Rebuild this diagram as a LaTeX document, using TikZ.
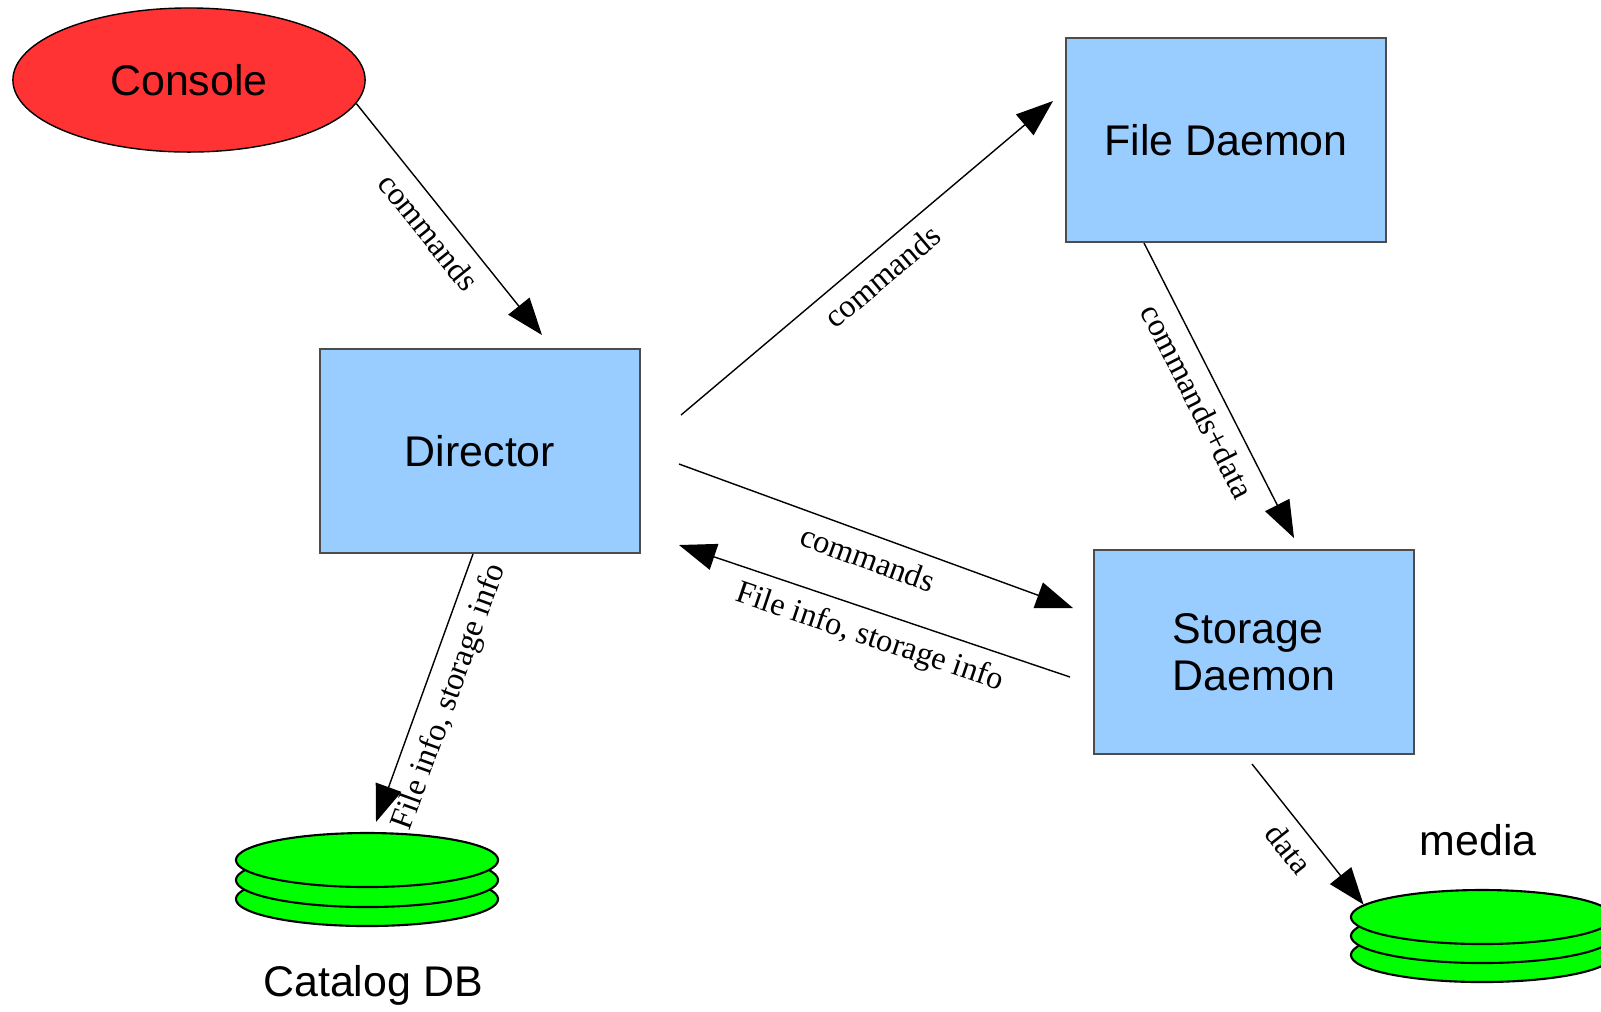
\documentclass[tikz,border=0pt]{standalone}
\usepackage{fontspec}
\setmainfont{Liberation Serif}
\newfontfamily\boxfont{Liberation Sans}
\usepackage{tikz}
\usetikzlibrary{arrows.meta,shapes.geometric}
\definecolor{boxblue}{RGB}{153,204,255}
\definecolor{consred}{RGB}{255,51,51}
\definecolor{diskgreen}{RGB}{0,255,0}

\tikzset{
  block/.style={draw=black!70, fill=boxblue, minimum width=3.2cm, minimum height=2.04cm,
    font=\boxfont\fontsize{12.2}{14}\selectfont},
  disk/.style={ellipse, draw, fill=diskgreen, minimum width=2.62cm, minimum height=0.54cm,
    inner sep=0, line width=0.6pt},
  flow/.style={-{Triangle[length=3.7mm,width=2.7mm]}, line width=0.4pt},
  lbl/.style={sloped, below, font=\fontsize{9.2}{11}\selectfont}
}

\begin{document}
\begin{tikzpicture}[x=0.01cm,y=-0.01cm]
\useasboundingbox (0,0) rectangle (1601,1011);

\node[ellipse, draw, fill=consred, minimum width=3.52cm, minimum height=1.44cm, inner sep=0,
  font=\boxfont\fontsize{12.2}{14}\selectfont] (con) at (189,80) {Console};
\node[block] (dir) at (480,451) {Director};
\node[block] (fd) at (1226,140) {File Daemon};
\node[block, align=left] (sd) at (1254,652) {Storage\\[-0.5pt]Daemon};

% disk stacks, bottom one first
\foreach \n/\y in {3/899,2/880,1/860} {
\node[disk] (cat\n) at (367,\y) {};}
\foreach \n/\y in {3/955,2/936,1/917} {
\node[disk] (med\n) at (1482,\y) {};}
\node[font=\boxfont\fontsize{12.2}{14}\selectfont] (catname) at (373,985) {Catalog DB};
\node[font=\boxfont\fontsize{12.2}{14}\selectfont] (medname) at (1478,840) {media};

% loose arrow ends
\coordinate (dirtop) at (542,335);
\coordinate (dirfd) at (681,415);
\coordinate (fdin) at (1053,101);
\coordinate (dirsd) at (679,464);
\coordinate (sdin) at (1073,608);
\coordinate (sdout) at (1070,677);
\coordinate (dirin) at (679,545);
\coordinate (fdout) at (1144,243);
\coordinate (sdtop) at (1294,538);
\coordinate (dircat) at (473,554);
\coordinate (catin) at (376,822);
\coordinate (sdmed) at (1252,764);

\draw[flow] (con.-8) -- node[lbl, pos=0.49]{commands} (dirtop);
\draw[flow] (dirfd) -- node[lbl, pos=0.5]{commands} (fdin);
\draw[flow] (dirsd) -- node[lbl, pos=0.5]{commands} (sdin);
\draw[flow] (sdout) -- node[lbl, pos=0.49]{File info, storage info} (dirin);
\draw[flow] (fdout) -- node[lbl, pos=0.5]{commands+data} (sdtop);
\draw[flow] (dircat) -- node[lbl, pos=0.5]{File info, storage info} (catin);
\draw[flow] (sdmed) -- node[lbl, pos=0.5]{data} (med1.174);
\end{tikzpicture}
\end{document}
